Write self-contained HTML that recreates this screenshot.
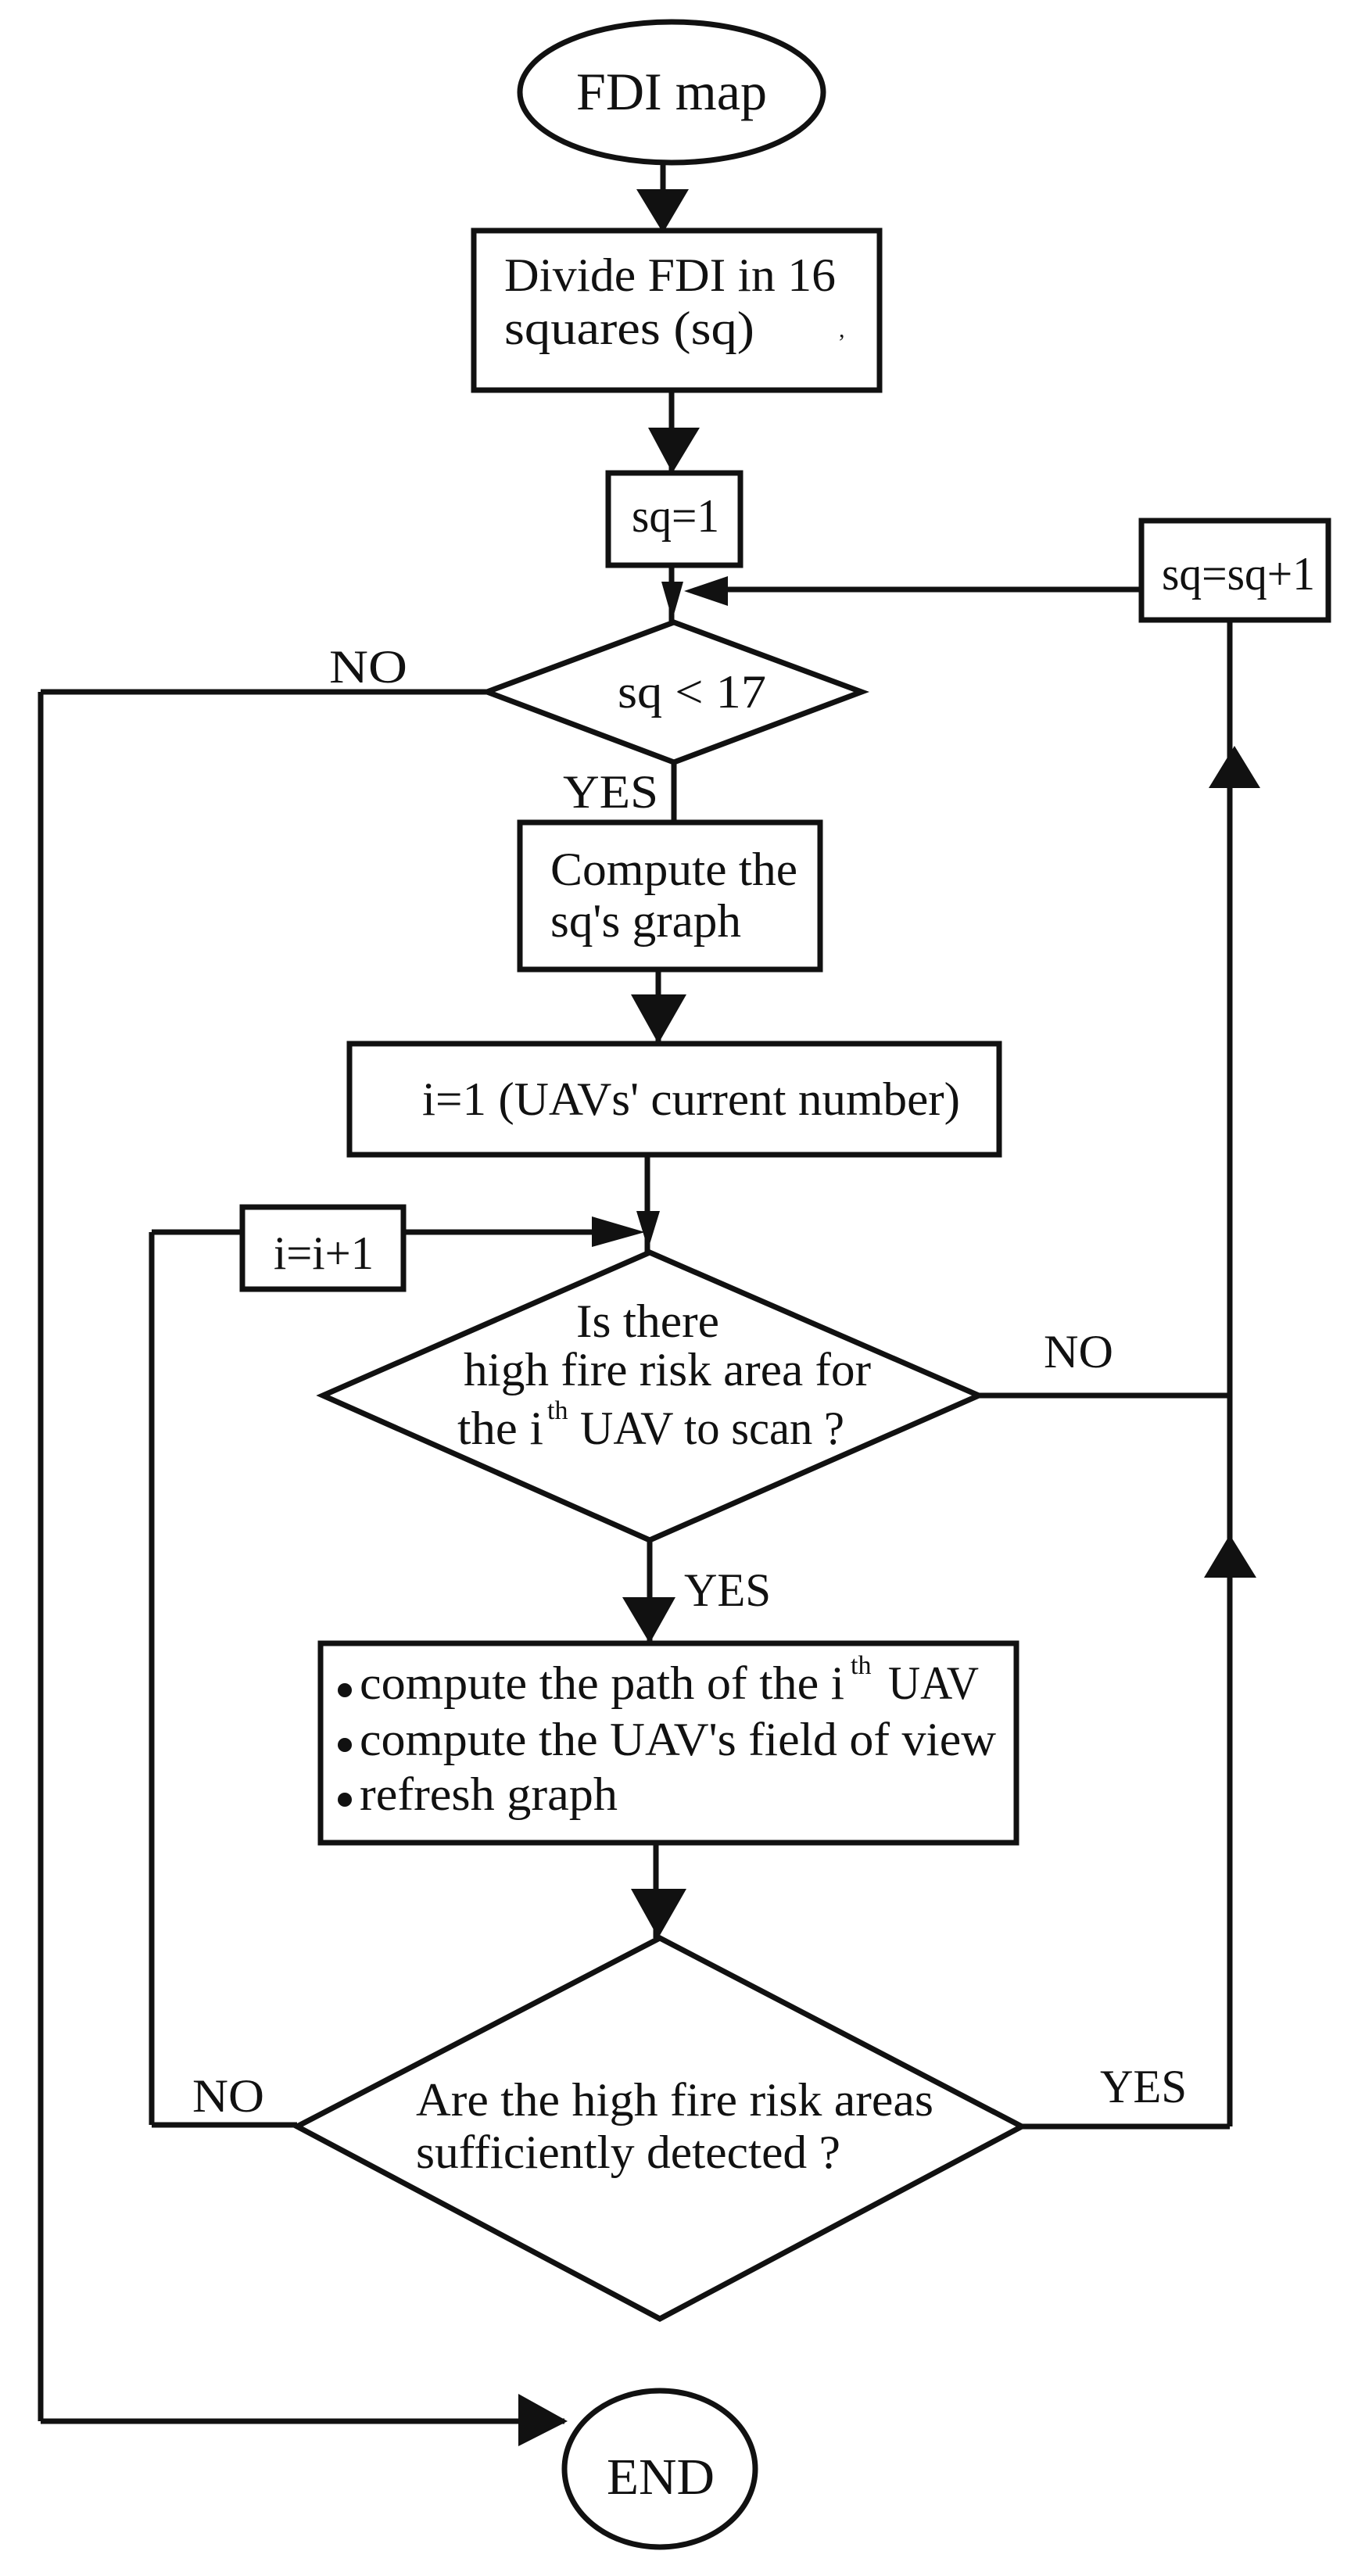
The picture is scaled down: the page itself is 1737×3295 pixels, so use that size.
<!DOCTYPE html>
<html><head><meta charset="utf-8"><style>
html,body{margin:0;padding:0;background:#fff;}
svg{display:block;}
text{font-family:"Liberation Serif",serif;fill:#111;}
</style></head><body>
<svg width="1737" height="3295" viewBox="0 0 1737 3295" xmlns="http://www.w3.org/2000/svg">
<g fill="none" stroke="#111" stroke-width="7">
  <ellipse cx="859" cy="118" rx="194" ry="90"/>
  <line x1="848" y1="207" x2="848" y2="295"/>
  <rect x="606" y="295" width="519" height="204"/>
  <line x1="859" y1="499" x2="859" y2="605"/>
  <rect x="778" y="605" width="169" height="118"/>
  <line x1="859" y1="723" x2="859" y2="796"/>
  <line x1="931" y1="754" x2="1460" y2="754"/>
  <rect x="1460" y="666" width="239" height="127"/>
  <line x1="1573" y1="793" x2="1573" y2="2720"/>
  <polygon points="862,796 1102,885 862,975 623,885"/>
  <line x1="623" y1="885" x2="52" y2="885"/>
  <line x1="52" y1="885" x2="52" y2="3097"/>
  <line x1="52" y1="3097" x2="722" y2="3097"/>
  <line x1="862" y1="975" x2="862" y2="1052"/>
  <rect x="665" y="1052" width="384" height="188"/>
  <line x1="842" y1="1240" x2="842" y2="1335"/>
  <rect x="447" y="1335" width="831" height="142"/>
  <line x1="828" y1="1477" x2="828" y2="1602"/>
  <line x1="194" y1="1576" x2="310" y2="1576"/>
  <line x1="516" y1="1576" x2="760" y2="1576"/>
  <rect x="310" y="1544" width="206" height="105"/>
  <line x1="194" y1="1576" x2="194" y2="2718"/>
  <polygon points="831,1602 1252,1785 831,1970 413,1785"/>
  <line x1="1252" y1="1785" x2="1573" y2="1785"/>
  <line x1="831" y1="1970" x2="831" y2="2102"/>
  <rect x="410" y="2102" width="890" height="255"/>
  <line x1="839" y1="2357" x2="839" y2="2479"/>
  <polygon points="844,2479 1307,2720 844,2966 380,2720"/>
  <line x1="194" y1="2718" x2="380" y2="2718"/>
  <line x1="1307" y1="2720" x2="1573" y2="2720"/>
  <ellipse cx="844" cy="3158" rx="122" ry="100"/>
</g>
<g fill="#111" stroke="none">
  <polygon points="814,242 881,242 848,298"/>
  <polygon points="829,547 895,547 860,605"/>
  <polygon points="846,744 874,744 860,793"/>
  <polygon points="931,737 931,775 875,756"/>
  <polygon points="1546,1008 1612,1008 1579,954"/>
  <polygon points="807,1272 878,1272 842,1335"/>
  <polygon points="814,1549 844,1549 829,1598"/>
  <polygon points="757,1556 757,1595 825,1576"/>
  <polygon points="1540,2018 1607,2018 1573,1963"/>
  <polygon points="796,2043 864,2043 831,2102"/>
  <polygon points="807,2416 878,2416 842,2479"/>
  <polygon points="663,3062 663,3129 726,3097"/>
  <circle cx="441" cy="2162" r="9"/>
  <circle cx="441" cy="2232" r="9"/>
  <circle cx="441" cy="2302" r="9"/>
</g>
<g font-size="60">
  <text x="737" y="140" font-size="68" textLength="244" lengthAdjust="spacingAndGlyphs">FDI map</text>
  <text x="645" y="372" textLength="424" lengthAdjust="spacingAndGlyphs">Divide FDI in 16</text>
  <text x="645" y="440" textLength="320" lengthAdjust="spacingAndGlyphs">squares  (sq)</text>
  <text x="1073" y="431" font-size="30">,</text>
  <text x="808" y="680" textLength="112" lengthAdjust="spacingAndGlyphs">sq=1</text>
  <text x="1486" y="754" textLength="196" lengthAdjust="spacingAndGlyphs">sq=sq+1</text>
  <text x="790" y="905" textLength="190" lengthAdjust="spacingAndGlyphs">sq &lt; 17</text>
  <text x="421" y="873" textLength="100" lengthAdjust="spacingAndGlyphs">NO</text>
  <text x="720" y="1033" textLength="122" lengthAdjust="spacingAndGlyphs">YES</text>
  <text x="704" y="1132" textLength="316" lengthAdjust="spacingAndGlyphs">Compute the</text>
  <text x="704" y="1198" textLength="244" lengthAdjust="spacingAndGlyphs">sq's graph</text>
  <text x="540" y="1426" textLength="688" lengthAdjust="spacingAndGlyphs">i=1 (UAVs' current number)</text>
  <text x="350" y="1623" textLength="128" lengthAdjust="spacingAndGlyphs">i=i+1</text>
  <text x="737" y="1710" textLength="183" lengthAdjust="spacingAndGlyphs">Is there</text>
  <text x="593" y="1772" textLength="521" lengthAdjust="spacingAndGlyphs">high fire risk area for</text>
  <text x="585" y="1847" textLength="110" lengthAdjust="spacingAndGlyphs">the i</text>
  <text x="700" y="1815" font-size="34">th</text>
  <text x="742" y="1847" textLength="338" lengthAdjust="spacingAndGlyphs">UAV to scan ?</text>
  <text x="1335" y="1749" textLength="89" lengthAdjust="spacingAndGlyphs">NO</text>
  <text x="875" y="2054" textLength="111" lengthAdjust="spacingAndGlyphs">YES</text>
  <text x="460" y="2173" textLength="620" lengthAdjust="spacingAndGlyphs">compute the path of the i</text>
  <text x="1088" y="2141" font-size="34">th</text>
  <text x="1136" y="2173" textLength="116" lengthAdjust="spacingAndGlyphs">UAV</text>
  <text x="460" y="2245" textLength="814" lengthAdjust="spacingAndGlyphs">compute the UAV's field of view</text>
  <text x="460" y="2315" textLength="330" lengthAdjust="spacingAndGlyphs">refresh graph</text>
  <text x="532" y="2706" textLength="662" lengthAdjust="spacingAndGlyphs">Are the high fire risk areas</text>
  <text x="532" y="2773" textLength="543" lengthAdjust="spacingAndGlyphs">sufficiently detected ?</text>
  <text x="246" y="2701" textLength="92" lengthAdjust="spacingAndGlyphs">NO</text>
  <text x="1407" y="2689" textLength="111" lengthAdjust="spacingAndGlyphs">YES</text>
  <text x="776" y="3190" font-size="66" textLength="138" lengthAdjust="spacingAndGlyphs">END</text>
</g>
</svg>
</body></html>
